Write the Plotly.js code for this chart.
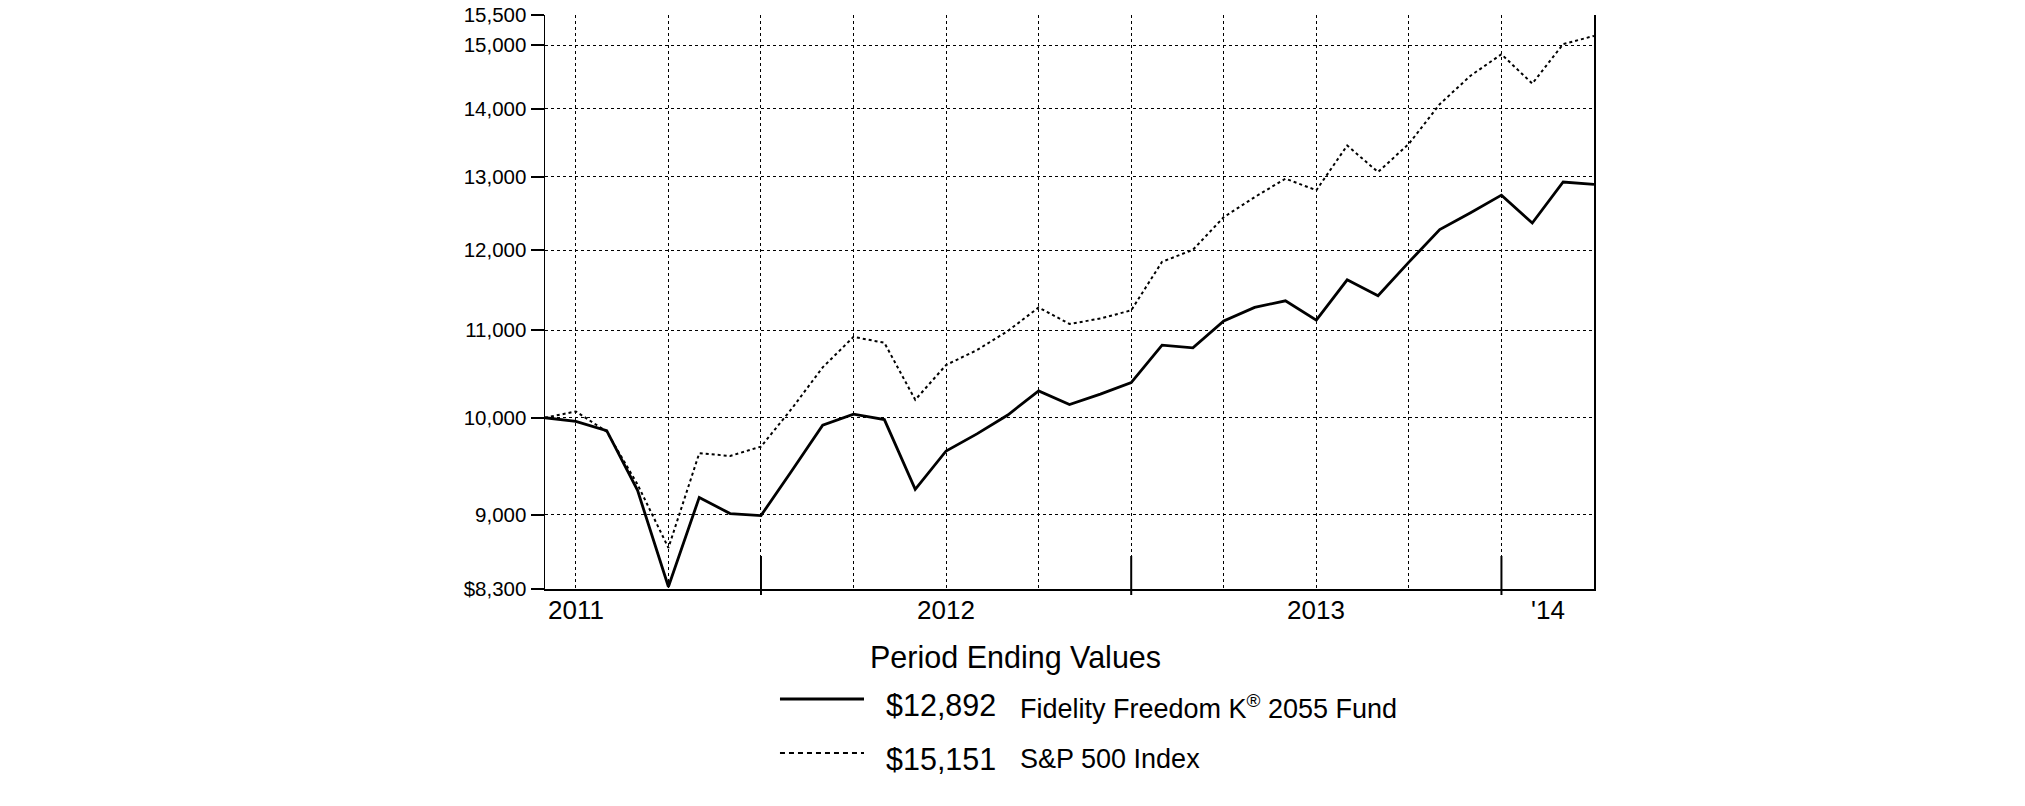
<!DOCTYPE html>
<html>
<head>
<meta charset="utf-8">
<script src="https://cdn.plot.ly/plotly-3.0.1.min.js"></script>
<style>
html, body { margin: 0; padding: 0; background: #ffffff; }
#chart { width: 2025px; height: 806px; }
</style>
</head>
<body>
<div id="chart"></div>
<script>
// ---- Data (month-end values of a hypothetical $10,000 investment) ----
const months = [
  '2011-05', '2011-06', '2011-07', '2011-08', '2011-09', '2011-10', '2011-11', '2011-12',
  '2012-01', '2012-02', '2012-03', '2012-04', '2012-05', '2012-06', '2012-07', '2012-08',
  '2012-09', '2012-10', '2012-11', '2012-12', '2013-01', '2013-02', '2013-03', '2013-04',
  '2013-05', '2013-06', '2013-07', '2013-08', '2013-09', '2013-10', '2013-11', '2013-12',
  '2014-01', '2014-02', '2014-03'
];
const fundValues = [
  10000, 9960, 9860, 9240, 8320, 9170, 9010, 8990,
  9440, 9920, 10040, 9980, 9250, 9645, 9826, 10030,
  10297, 10145, 10260, 10390, 10822, 10791, 11111, 11276,
  11357, 11120, 11620, 11420, 11845, 12272, 12500, 12741,
  12360, 12924, 12892
];
const spValues = [
  10000, 10069, 9850, 9300, 8680, 9621, 9593, 9691,
  10100, 10564, 10920, 10850, 10197, 10591, 10764, 10990,
  11275, 11075, 11140, 11240, 11850, 12005, 12440, 12713,
  12972, 12809, 13448, 13065, 13473, 14067, 14510, 14852,
  14385, 15017, 15151
];
const fundName = 'Fidelity Freedom K<sup>®</sup> 2055 Fund';
const spName = 'S&P 500 Index';
const legendTitle = 'Period Ending Values';
const yTickVals = [8300, 9000, 10000, 11000, 12000, 13000, 14000, 15000, 15500];
const yTickText = ['$8,300', '9,000', '10,000', '11,000', '12,000', '13,000', '14,000', '15,000', '15,500'];
const yGridVals = [9000, 10000, 11000, 12000, 13000, 14000, 15000];
const yearLabels = ['2011', '2012', '2013', "'14"];

// ---- Derived helpers ----
const xIdx = months.map((m, i) => i);
const quarterEnds = xIdx.filter(i => ['03', '06', '09', '12'].includes(months[i].slice(5)));
const yearEnds = xIdx.filter(i => months[i].slice(5) === '12');
const fmt = v => '$' + v.toLocaleString('en-US');

// ---- Layout config ----
const FONT = 'Liberation Sans, Arial, Helvetica, sans-serif';
const yearLabelPos = [1, 13, 25, 32.5];

const traces = [
  {
    x: xIdx, y: fundValues, type: 'scatter', mode: 'lines', name: 'Fidelity Freedom K® 2055 Fund',
    line: { color: '#000000', width: 2.8 }, hoverinfo: 'skip'
  },
  {
    x: xIdx, y: spValues, type: 'scatter', mode: 'lines', name: spName,
    line: { color: '#000000', width: 2, dash: '3px,3px' }, hoverinfo: 'skip'
  }
];

const shapes = yearEnds.map(i => ({
  type: 'line', xref: 'x', yref: 'paper', x0: i, x1: i, y0: -6 / 574, y1: 33 / 574,
  line: { color: '#000000', width: 2 }
}));
// legend lines
shapes.push({ type: 'line', xref: 'paper', yref: 'paper', x0: 0.224, x1: 0.3041, y0: -0.1916, y1: -0.1916,
  line: { color: '#000000', width: 3 } });
shapes.push({ type: 'line', xref: 'paper', yref: 'paper', x0: 0.224, x1: 0.3041, y0: -0.2857, y1: -0.2857,
  line: { color: '#000000', width: 2, dash: '5px,4px' } });

const annotations = yearLabels.map((t, k) => ({
  text: t, xref: 'x', yref: 'paper', x: yearLabelPos[k], y: 0, yshift: -21,
  xanchor: 'center', yanchor: 'middle', showarrow: false,
  font: { family: FONT, size: 26, color: '#000000' }
}));
annotations.push(
  { text: legendTitle, xref: 'paper', yref: 'paper', x: 0.4485, y: -0.1185, xanchor: 'center', yanchor: 'middle',
    showarrow: false, font: { family: FONT, size: 30.5, color: '#000000' } },
  { text: fmt(fundValues[fundValues.length - 1]), xref: 'paper', yref: 'paper', x: 0.3232, y: -0.2021,
    xanchor: 'left', yanchor: 'middle', showarrow: false, font: { family: FONT, size: 30.5, color: '#000000' } },
  { text: fundName, xref: 'paper', yref: 'paper', x: 0.4509, y: -0.2056,
    xanchor: 'left', yanchor: 'middle', showarrow: false, font: { family: FONT, size: 27, color: '#000000' } },
  { text: fmt(spValues[spValues.length - 1]), xref: 'paper', yref: 'paper', x: 0.3232, y: -0.2962,
    xanchor: 'left', yanchor: 'middle', showarrow: false, font: { family: FONT, size: 30.5, color: '#000000' } },
  { text: spName, xref: 'paper', yref: 'paper', x: 0.4509, y: -0.2962,
    xanchor: 'left', yanchor: 'middle', showarrow: false, font: { family: FONT, size: 27, color: '#000000' } }
);

const layout = {
  width: 2025, height: 806,
  margin: { l: 545, r: 431, t: 15, b: 217, pad: 0 },
  paper_bgcolor: '#ffffff', plot_bgcolor: '#ffffff',
  showlegend: false,
  font: { family: FONT, color: '#000000' },
  xaxis: {
    type: 'linear', range: [0, months.length - 1], fixedrange: true,
    showline: true, linecolor: '#000000', linewidth: 1.5, mirror: false,
    zeroline: false, showticklabels: false, ticks: '',
    tickmode: 'array', tickvals: quarterEnds,
    showgrid: true, gridcolor: '#000000', gridwidth: 1, griddash: 'dot'
  },
  yaxis: {
    type: 'log', range: [Math.log10(8300), Math.log10(15500)], fixedrange: true,
    showline: true, linecolor: '#000000', linewidth: 1.5, mirror: true,
    zeroline: false,
    tickmode: 'array', tickvals: yTickVals, ticktext: yTickText,
    ticks: 'outside', ticklen: 13, tickwidth: 2, tickcolor: '#000000',
    tickfont: { family: FONT, size: 20.5, color: '#000000' },
    showgrid: false,
    minor: { tickmode: 'array', tickvals: yGridVals, showgrid: true, gridcolor: '#000000', gridwidth: 1, griddash: 'dot', ticks: '' }
  },
  shapes: shapes,
  annotations: annotations
};

Plotly.newPlot('chart', traces, layout, { displayModeBar: false, staticPlot: true });
</script>
</body>
</html>
